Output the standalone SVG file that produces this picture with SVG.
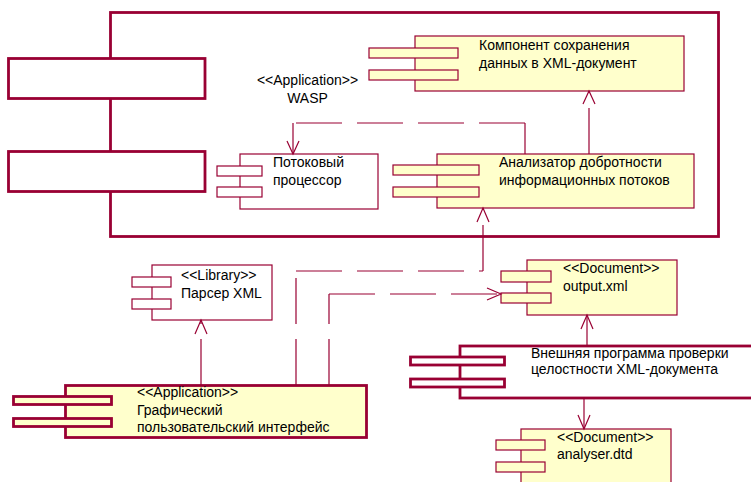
<svg xmlns="http://www.w3.org/2000/svg" width="751" height="482" viewBox="0 0 751 482">
<style>
text{font-family:"Liberation Sans",Arial,sans-serif;font-size:14px;fill:#000}
.thick{stroke:#990033;stroke-width:2.8;fill:#fff}
.y{fill:#ffffcc;stroke:#990033;stroke-width:1.2}
.w{fill:#fff;stroke:#990033;stroke-width:1.2}
.ty{fill:#ffffcc;stroke:#990033;stroke-width:2.8}
.c{stroke:#990033;stroke-width:1.2;fill:none}
.d{stroke-dasharray:46 15}
</style>
<rect width="751" height="482" fill="#fff"/>
<g id="wasp">
<rect class="thick" x="110.5" y="12.5" width="608" height="224"/>
<rect class="thick" x="8.5" y="58.5" width="196.5" height="40"/>
<rect class="thick" x="8.5" y="151.5" width="196.5" height="40"/>
<text x="307.5" y="85" text-anchor="middle">&lt;&lt;Application&gt;&gt;</text>
<text x="307.5" y="103" text-anchor="middle">WASP</text>
</g>
<g id="saver">
<rect class="y" x="415" y="36" width="269" height="55"/>
<rect class="y" x="369" y="48" width="89" height="10"/>
<rect class="y" x="369" y="70" width="89" height="10"/>
<text x="479" y="50">Компонент сохранения</text>
<text x="479" y="68">данных в XML-документ</text>
</g>
<g id="stream">
<rect class="w" x="240" y="154" width="138" height="55"/>
<rect class="w" x="217" y="166" width="45" height="10"/>
<rect class="w" x="217" y="187" width="45" height="10"/>
<text x="273" y="167">Потоковый</text>
<text x="273" y="185">процессор</text>
</g>
<g id="analyzer">
<rect class="y" x="437" y="154" width="257" height="54"/>
<rect class="y" x="393" y="165" width="86" height="10"/>
<rect class="y" x="393" y="187" width="86" height="10"/>
<text x="499" y="167">Анализатор добротности</text>
<text x="499" y="185">информационных  потоков</text>
</g>
<g id="parser">
<rect class="w" x="152" y="265" width="120" height="55"/>
<rect class="w" x="132" y="277" width="39" height="10"/>
<rect class="w" x="132" y="299" width="39" height="10"/>
<text x="181" y="280">&lt;&lt;Library&gt;&gt;</text>
<text x="181" y="298">Парсер XML</text>
</g>
<g id="gui">
<rect class="ty" x="65.5" y="385.5" width="301" height="52"/>
<rect class="ty" x="13.5" y="396.5" width="98" height="8"/>
<rect class="ty" x="13.5" y="418.5" width="98" height="8"/>
<text x="137" y="397">&lt;&lt;Application&gt;&gt;</text>
<text x="137" y="415">Графический</text>
<text x="137" y="432">пользовательский интерфейс</text>
</g>
<g id="output">
<rect class="y" x="527" y="260" width="150" height="55"/>
<rect class="y" x="501" y="271" width="50" height="11"/>
<rect class="y" x="501" y="293" width="50" height="10"/>
<text x="563" y="273">&lt;&lt;Document&gt;&gt;</text>
<text x="563" y="291">output.xml</text>
</g>
<g id="checker">
<rect class="thick" x="460" y="346" width="310" height="52"/>
<rect class="thick" x="410.5" y="357" width="94" height="8"/>
<rect class="thick" x="410.5" y="379" width="94" height="8"/>
<text x="531" y="358">Внешняя программа проверки</text>
<text x="531" y="374">целостности XML-документа</text>
</g>
<g id="dtd">
<rect class="y" x="521" y="429" width="150" height="70"/>
<rect class="y" x="496" y="440" width="49" height="10"/>
<rect class="y" x="496" y="462" width="49" height="10"/>
<text x="557" y="442">&lt;&lt;Document&gt;&gt;</text>
<text x="557" y="459">analyser.dtd</text>
</g>
<g id="connectors">
<!-- analyzer -> stream -->
<line class="c d" x1="525" y1="154" x2="525" y2="123"/>
<line class="c d" x1="525" y1="123" x2="293" y2="123"/>
<line class="c d" x1="293" y1="123" x2="293" y2="154"/>
<polyline class="c" points="287,141 293,154 299,141"/>
<!-- analyzer -> saver -->
<line class="c d" x1="589" y1="154" x2="589" y2="91"/>
<polyline class="c" points="583,104 589,91 595,104"/>
<!-- gui -> analyzer -->
<line class="c d" x1="296" y1="385" x2="296" y2="271"/>
<line class="c d" x1="296" y1="271" x2="483" y2="271"/>
<line class="c d" x1="483" y1="271" x2="483" y2="208"/>
<polyline class="c" points="477,222 483,208 489,222"/>
<!-- gui -> output -->
<line class="c d" x1="329" y1="385" x2="329" y2="294"/>
<line class="c d" x1="329" y1="294" x2="501" y2="294"/>
<polyline class="c" points="487,288 501,294 487,300"/>
<!-- gui -> parser -->
<line class="c d" x1="201" y1="385" x2="201" y2="320"/>
<polyline class="c" points="195,334 201,320 207,334"/>
<!-- checker -> output -->
<line class="c" x1="587" y1="345" x2="587" y2="315"/>
<polyline class="c" points="581,329 587,315 593,329"/>
<!-- checker -> dtd -->
<line class="c" x1="584" y1="399" x2="584" y2="429"/>
<polyline class="c" points="578,415 584,429 590,415"/>
</g>
</svg>
